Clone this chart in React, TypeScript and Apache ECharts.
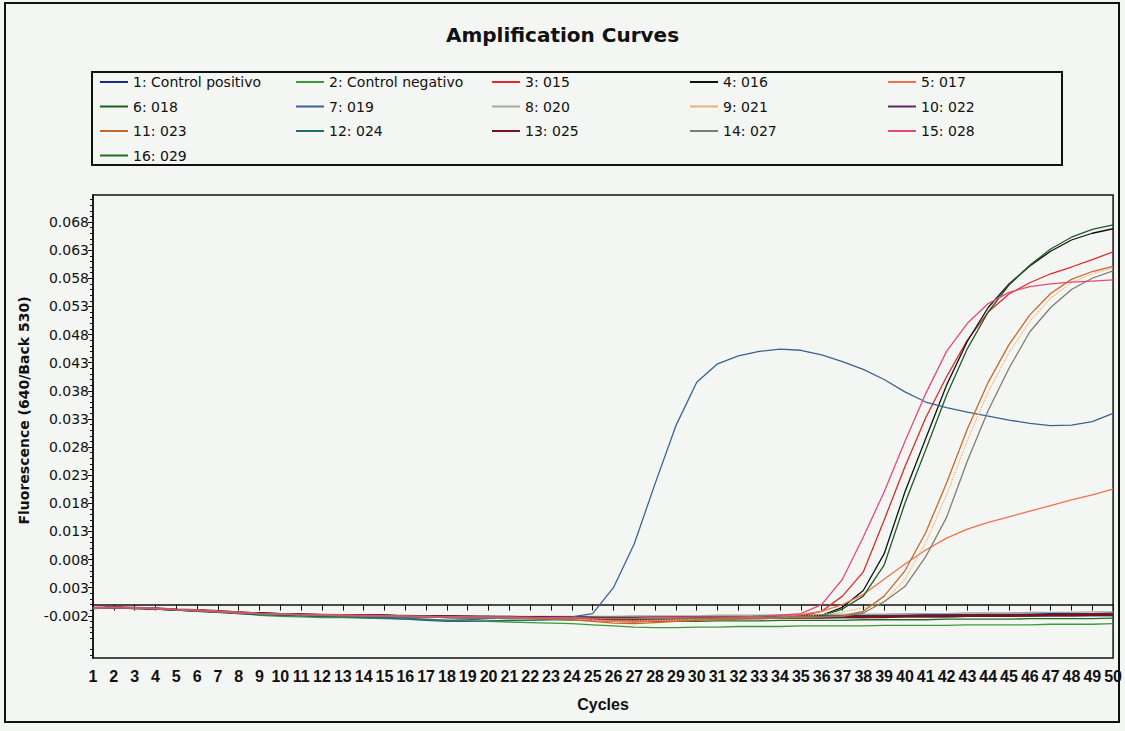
import React, { useEffect, useRef } from 'react';
import * as echarts from 'echarts';

const CYCLES = [1, 2, 3, 4, 5, 6, 7, 8, 9, 10, 11, 12, 13, 14, 15, 16, 17, 18, 19, 20, 21, 22, 23, 24, 25, 26, 27, 28, 29, 30, 31, 32, 33, 34, 35, 36, 37, 38, 39, 40, 41, 42, 43, 44, 45, 46, 47, 48, 49, 50];

const Y_TICKS = [-0.002, 0.003, 0.008, 0.013, 0.018, 0.023, 0.028, 0.033, 0.038, 0.043, 0.048, 0.053, 0.058, 0.063, 0.068];

const NAMES = ['1: Control positivo', '2: Control negativo', '3: 015', '4: 016', '5: 017', '6: 018', '7: 019', '8: 020', '9: 021', '10: 022', '11: 023', '12: 024', '13: 025', '14: 027', '15: 028', '16: 029'];

const COLORS = ['#1b2b7a', '#3c9a3c', '#e0282e', '#111111', '#f0704f', '#1e5e22', '#3b6391', '#a4aa98', '#f2b070', '#5b2d5e', '#c8682e', '#1f6f6a', '#7a1020', '#7a8070', '#e84a78', '#236b23'];

const S1 = [-0.0006, -0.0005, -0.0006, -0.0007, -0.0009, -0.0010, -0.0012, -0.0014, -0.0016, -0.0017,
  -0.0018, -0.0018, -0.0019, -0.0019, -0.0020, -0.0020, -0.0021, -0.0021, -0.0022, -0.0022,
  -0.0022, -0.0022, -0.0023, -0.0023, -0.0023, -0.0023, -0.0023, -0.0022, -0.0022, -0.0022,
  -0.0022, -0.0021, -0.0021, -0.0021, -0.0020, -0.0020, -0.0020, -0.0019, -0.0019, -0.0019,
  -0.0018, -0.0018, -0.0018, -0.0017, -0.0017, -0.0017, -0.0016, -0.0016, -0.0016, -0.0015];

const S2 = [-0.0006, -0.0006, -0.0007, -0.0008, -0.0010, -0.0012, -0.0014, -0.0016, -0.0019, -0.0021,
  -0.0022, -0.0023, -0.0023, -0.0024, -0.0025, -0.0026, -0.0027, -0.0028, -0.0029, -0.0030,
  -0.0031, -0.0032, -0.0033, -0.0034, -0.0036, -0.0038, -0.0040, -0.0041, -0.0041, -0.0040,
  -0.0040, -0.0039, -0.0039, -0.0039, -0.0038, -0.0038, -0.0038, -0.0038, -0.0037, -0.0037,
  -0.0037, -0.0037, -0.0036, -0.0036, -0.0036, -0.0036, -0.0035, -0.0035, -0.0035, -0.0034];

const S3 = [-0.0006, -0.0005, -0.0006, -0.0007, -0.0009, -0.0011, -0.0013, -0.0015, -0.0016, -0.0017,
  -0.0018, -0.0019, -0.0019, -0.0020, -0.0020, -0.0021, -0.0021, -0.0022, -0.0022, -0.0022,
  -0.0023, -0.0023, -0.0024, -0.0025, -0.0027, -0.0030, -0.0031, -0.0029, -0.0027, -0.0026,
  -0.0025, -0.0024, -0.0023, -0.0022, -0.0020, -0.0012, 0.0015, 0.0058, 0.0150, 0.0245,
  0.0332, 0.0405, 0.0470, 0.0520, 0.0552, 0.0572, 0.0588, 0.0600, 0.0613, 0.0627];

const S4 = [-0.0006, -0.0005, -0.0006, -0.0007, -0.0009, -0.0010, -0.0012, -0.0014, -0.0015, -0.0016,
  -0.0017, -0.0018, -0.0018, -0.0019, -0.0019, -0.0020, -0.0020, -0.0020, -0.0021, -0.0021,
  -0.0021, -0.0022, -0.0022, -0.0022, -0.0023, -0.0023, -0.0023, -0.0023, -0.0023, -0.0022,
  -0.0022, -0.0022, -0.0021, -0.0021, -0.0021, -0.0019, -0.0005, 0.0025, 0.0090, 0.0200,
  0.0295, 0.0390, 0.0468, 0.0528, 0.0570, 0.0602, 0.0628, 0.0648, 0.0660, 0.0668];

const S5 = [-0.0006, -0.0005, -0.0006, -0.0007, -0.0009, -0.0010, -0.0012, -0.0014, -0.0016, -0.0017,
  -0.0018, -0.0018, -0.0019, -0.0020, -0.0020, -0.0021, -0.0021, -0.0022, -0.0022, -0.0023,
  -0.0023, -0.0024, -0.0025, -0.0026, -0.0028, -0.0030, -0.0030, -0.0029, -0.0028, -0.0027,
  -0.0026, -0.0025, -0.0024, -0.0022, -0.0018, -0.0012, 0.0000, 0.0018, 0.0045, 0.0072,
  0.0097, 0.0118, 0.0134, 0.0146, 0.0156, 0.0166, 0.0176, 0.0186, 0.0195, 0.0205];

const S6 = [-0.0006, -0.0005, -0.0006, -0.0008, -0.0009, -0.0011, -0.0013, -0.0015, -0.0016, -0.0017,
  -0.0018, -0.0019, -0.0019, -0.0020, -0.0020, -0.0021, -0.0021, -0.0022, -0.0022, -0.0022,
  -0.0023, -0.0023, -0.0023, -0.0024, -0.0025, -0.0026, -0.0026, -0.0026, -0.0025, -0.0025,
  -0.0024, -0.0024, -0.0023, -0.0023, -0.0022, -0.0020, -0.0008, 0.0015, 0.0070, 0.0180,
  0.0275, 0.0372, 0.0455, 0.0520, 0.0568, 0.0603, 0.0632, 0.0653, 0.0667, 0.0675];

const S7 = [-0.0006, -0.0005, -0.0006, -0.0007, -0.0009, -0.0011, -0.0013, -0.0015, -0.0017, -0.0018,
  -0.0019, -0.0020, -0.0021, -0.0022, -0.0023, -0.0024, -0.0026, -0.0028, -0.0027, -0.0025,
  -0.0024, -0.0024, -0.0023, -0.0022, -0.0016, 0.0030, 0.0108, 0.0215, 0.0318, 0.0395,
  0.0428, 0.0442, 0.0450, 0.0454, 0.0452, 0.0444, 0.0432, 0.0418, 0.0400, 0.0378,
  0.0360, 0.0350, 0.0342, 0.0335, 0.0328, 0.0322, 0.0318, 0.0319, 0.0325, 0.0340];

const S8 = [-0.0006, -0.0005, -0.0006, -0.0007, -0.0009, -0.0010, -0.0012, -0.0013, -0.0015, -0.0016,
  -0.0017, -0.0017, -0.0018, -0.0018, -0.0019, -0.0019, -0.0020, -0.0020, -0.0020, -0.0021,
  -0.0021, -0.0021, -0.0021, -0.0021, -0.0021, -0.0021, -0.0020, -0.0020, -0.0020, -0.0020,
  -0.0019, -0.0019, -0.0019, -0.0018, -0.0018, -0.0018, -0.0017, -0.0017, -0.0017, -0.0016,
  -0.0016, -0.0016, -0.0015, -0.0015, -0.0015, -0.0014, -0.0014, -0.0014, -0.0013, -0.0013];

const S9 = [-0.0006, -0.0005, -0.0006, -0.0007, -0.0009, -0.0010, -0.0012, -0.0014, -0.0016, -0.0017,
  -0.0018, -0.0019, -0.0019, -0.0020, -0.0021, -0.0021, -0.0022, -0.0022, -0.0023, -0.0023,
  -0.0024, -0.0024, -0.0025, -0.0026, -0.0027, -0.0029, -0.0029, -0.0028, -0.0027, -0.0026,
  -0.0025, -0.0024, -0.0023, -0.0022, -0.0021, -0.0018, -0.0013, -0.0006, 0.0005, 0.0045,
  0.0110, 0.0195, 0.0292, 0.0378, 0.0448, 0.0503, 0.0545, 0.0572, 0.0588, 0.0598];

const S10 = [-0.0006, -0.0005, -0.0006, -0.0007, -0.0009, -0.0010, -0.0012, -0.0014, -0.0016, -0.0017,
  -0.0018, -0.0018, -0.0019, -0.0019, -0.0020, -0.0020, -0.0021, -0.0021, -0.0021, -0.0022,
  -0.0022, -0.0022, -0.0022, -0.0023, -0.0023, -0.0024, -0.0024, -0.0024, -0.0023, -0.0023,
  -0.0023, -0.0022, -0.0022, -0.0022, -0.0021, -0.0021, -0.0021, -0.0020, -0.0020, -0.0020,
  -0.0019, -0.0019, -0.0019, -0.0018, -0.0018, -0.0018, -0.0018, -0.0017, -0.0017, -0.0017];

const S11 = [-0.0006, -0.0005, -0.0006, -0.0007, -0.0009, -0.0011, -0.0013, -0.0015, -0.0016, -0.0017,
  -0.0018, -0.0019, -0.0020, -0.0020, -0.0021, -0.0021, -0.0022, -0.0022, -0.0023, -0.0023,
  -0.0024, -0.0025, -0.0026, -0.0027, -0.0030, -0.0033, -0.0034, -0.0032, -0.0030, -0.0028,
  -0.0027, -0.0026, -0.0025, -0.0024, -0.0023, -0.0022, -0.0020, -0.0012, 0.0015, 0.0060,
  0.0128, 0.0216, 0.0312, 0.0395, 0.0462, 0.0515, 0.0553, 0.0578, 0.0592, 0.0601];

const S12 = [-0.0006, -0.0005, -0.0006, -0.0008, -0.0010, -0.0012, -0.0014, -0.0016, -0.0018, -0.0019,
  -0.0020, -0.0021, -0.0022, -0.0023, -0.0024, -0.0026, -0.0028, -0.0030, -0.0030, -0.0029,
  -0.0028, -0.0028, -0.0027, -0.0027, -0.0026, -0.0026, -0.0026, -0.0025, -0.0025, -0.0025,
  -0.0024, -0.0024, -0.0024, -0.0024, -0.0023, -0.0023, -0.0023, -0.0023, -0.0022, -0.0022,
  -0.0022, -0.0022, -0.0021, -0.0021, -0.0021, -0.0021, -0.0020, -0.0020, -0.0020, -0.0020];

const S13 = [-0.0006, -0.0005, -0.0006, -0.0007, -0.0009, -0.0010, -0.0012, -0.0014, -0.0016, -0.0017,
  -0.0018, -0.0019, -0.0019, -0.0020, -0.0020, -0.0021, -0.0021, -0.0022, -0.0022, -0.0022,
  -0.0023, -0.0023, -0.0023, -0.0024, -0.0025, -0.0026, -0.0027, -0.0027, -0.0026, -0.0025,
  -0.0025, -0.0024, -0.0024, -0.0023, -0.0023, -0.0023, -0.0022, -0.0022, -0.0022, -0.0021,
  -0.0021, -0.0021, -0.0020, -0.0020, -0.0020, -0.0019, -0.0019, -0.0019, -0.0018, -0.0018];

const S14 = [-0.0006, -0.0005, -0.0006, -0.0007, -0.0009, -0.0010, -0.0012, -0.0014, -0.0016, -0.0017,
  -0.0018, -0.0019, -0.0019, -0.0020, -0.0020, -0.0021, -0.0021, -0.0022, -0.0022, -0.0023,
  -0.0023, -0.0023, -0.0024, -0.0024, -0.0025, -0.0025, -0.0025, -0.0025, -0.0024, -0.0024,
  -0.0024, -0.0023, -0.0023, -0.0023, -0.0022, -0.0022, -0.0021, -0.0015, 0.0005, 0.0032,
  0.0085, 0.0155, 0.0255, 0.0345, 0.0420, 0.0485, 0.0528, 0.0560, 0.0580, 0.0593];

const S15 = [-0.0006, -0.0005, -0.0006, -0.0007, -0.0009, -0.0010, -0.0012, -0.0014, -0.0016, -0.0017,
  -0.0018, -0.0018, -0.0019, -0.0019, -0.0020, -0.0020, -0.0021, -0.0021, -0.0022, -0.0022,
  -0.0022, -0.0023, -0.0023, -0.0023, -0.0024, -0.0024, -0.0024, -0.0023, -0.0023, -0.0022,
  -0.0022, -0.0022, -0.0021, -0.0019, -0.0016, 0.0000, 0.0045, 0.0120, 0.0200, 0.0290,
  0.0375, 0.0450, 0.0500, 0.0535, 0.0555, 0.0565, 0.0570, 0.0573, 0.0575, 0.0577];

const S16 = [-0.0006, -0.0005, -0.0006, -0.0008, -0.0010, -0.0011, -0.0013, -0.0015, -0.0017, -0.0018,
  -0.0019, -0.0020, -0.0020, -0.0021, -0.0021, -0.0022, -0.0022, -0.0023, -0.0024, -0.0024,
  -0.0025, -0.0025, -0.0026, -0.0027, -0.0028, -0.0029, -0.0030, -0.0030, -0.0030, -0.0030,
  -0.0029, -0.0029, -0.0029, -0.0028, -0.0028, -0.0028, -0.0028, -0.0027, -0.0027, -0.0027,
  -0.0027, -0.0026, -0.0026, -0.0026, -0.0026, -0.0025, -0.0025, -0.0025, -0.0025, -0.0024];

const VALUES = [S1, S2, S3, S4, S5, S6, S7, S8, S9, S10, S11, S12, S13, S14, S15, S16];

// legend columns (indices into NAMES)
const LEGEND_COLUMNS = [[0, 5, 10, 15], [1, 6, 11], [2, 7, 12], [3, 8, 13], [4, 9, 14]];
const LEGEND_LEFTS = [100, 296, 492, 690, 888];

const AMPLIFIED = [2, 3, 4, 5, 6, 8, 10, 13, 14];

export default function App() {
  const ref = useRef<HTMLDivElement>(null);

  useEffect(() => {
    if (!ref.current) return;
    const chart = echarts.init(ref.current, null, { renderer: 'svg' });

    const yMin = -0.0095;
    const yMax = 0.0728;
    const minorTicks: number[] = [];
    for (let k = -9; k <= 72; k++) {
      if ((k + 2) % 5 !== 0) minorTicks.push(k / 1000);
    }

    const series = NAMES.map((name, i) => ({
      name,
      type: 'line',
      data: CYCLES.map((c, j) => [c, VALUES[i][j]]),
      symbol: 'none',
      showSymbol: false,
      smooth: false,
      z: AMPLIFIED.includes(i) ? 4 : 3,
      lineStyle: {
        color: COLORS[i],
        width: i === 12 ? 2.4 : 1.3,
        type: i === 8 ? 'dotted' : 'solid',
      },
      itemStyle: { color: COLORS[i] },
      emphasis: { disabled: true },
    }));

    const legends = LEGEND_COLUMNS.map((col, k) => ({
      orient: 'vertical',
      left: LEGEND_LEFTS[k],
      top: 74,
      padding: 0,
      itemGap: 8.5,
      itemWidth: 28,
      itemHeight: 2,
      icon: 'rect',
      selectedMode: false,
      data: col.map((i) => ({
        name: NAMES[i],
        itemStyle: { color: COLORS[i] },
      })),
      textStyle: {
        fontFamily: 'DejaVu Sans',
        fontSize: 14,
        color: '#111',
        lineHeight: 16,
      },
    }));

    chart.setOption({
      animation: false,
      backgroundColor: '#f4f6f3',
      title: {
        text: 'Amplification Curves',
        left: 'center',
        top: 25,
        padding: 0,
        textStyle: {
          fontFamily: 'DejaVu Sans',
          fontWeight: 'bold',
          fontSize: 20,
          color: '#111',
        },
      },
      legend: legends,
      grid: {
        left: 93,
        right: 10,
        top: 195,
        bottom: 73,
        show: true,
        borderColor: '#111',
        borderWidth: 1.5,
        backgroundColor: 'transparent',
      },
      xAxis: {
        type: 'value',
        min: 1,
        max: 50,
        interval: 1,
        name: 'Cycles',
        nameLocation: 'middle',
        nameGap: 38,
        nameTextStyle: {
          fontFamily: 'Liberation Sans',
          fontWeight: 'bold',
          fontSize: 16,
          color: '#111',
        },
        axisLine: { show: true, lineStyle: { color: '#111', width: 1.5 } },
        axisTick: { show: true, length: 6, lineStyle: { color: '#111' } },
        axisLabel: {
          margin: 10,
          fontFamily: 'Liberation Sans',
          fontWeight: 'bold',
          fontSize: 16,
          color: '#111',
          showMinLabel: true,
          showMaxLabel: true,
        },
        splitLine: { show: false },
      },
      yAxis: [
        {
          type: 'value',
          min: yMin,
          max: yMax,
          name: 'Fluorescence (640/Back 530)',
          nameLocation: 'middle',
          nameRotate: 90,
          nameGap: 62,
          nameTextStyle: {
            fontFamily: 'DejaVu Sans',
            fontWeight: 'bold',
            fontSize: 14,
            color: '#111',
            padding: [0, 0, 0, 32],
          },
          axisLine: { show: true, lineStyle: { color: '#111', width: 1.5 } },
          axisTick: { show: true, length: 5, customValues: Y_TICKS, lineStyle: { color: '#111' } },
          axisLabel: {
            customValues: Y_TICKS,
            margin: 4,
            fontFamily: 'DejaVu Sans',
            fontSize: 14,
            color: '#111',
            formatter: (v: number) => v.toFixed(3),
          },
          splitLine: { show: false },
        },
        {
          type: 'value',
          min: yMin,
          max: yMax,
          position: 'left',
          axisLine: { show: false },
          axisTick: { show: true, length: 3, customValues: minorTicks, lineStyle: { color: '#111' } },
          axisLabel: { show: false },
          splitLine: { show: false },
        },
      ],
      graphic: [
        {
          type: 'rect',
          shape: { x: 92, y: 72, width: 970, height: 93 },
          style: { fill: 'none', stroke: '#111', lineWidth: 2 },
          silent: true,
        },
        {
          type: 'rect',
          shape: { x: 5, y: 3, width: 1114, height: 719 },
          style: { fill: 'none', stroke: '#111', lineWidth: 2 },
          silent: true,
        },
      ],
      series,
    });

    return () => chart.dispose();
  }, []);

  return (
    <div
      ref={ref}
      style={{ position: 'fixed', left: 0, top: 0, width: 1125, height: 731 }}
    />
  );
}
